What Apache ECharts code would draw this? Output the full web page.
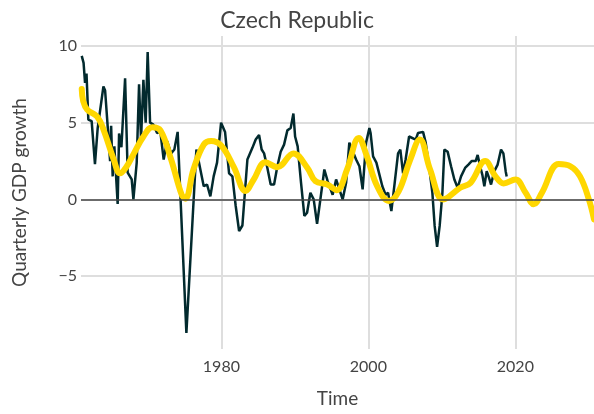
<!DOCTYPE html>
<html>
<head>
<meta charset="utf-8">
<script src="https://cdn.jsdelivr.net/npm/echarts@6/dist/echarts.min.js"></script>
<style>
  html, body { margin: 0; padding: 0; background: #fff; }
  #chart { width: 594px; height: 414px; }
</style>
</head>
<body>
<div id="chart"></div>
<script>
  // quarterly GDP growth
  var gdpYears = [
    1961.0, 1961.25, 1961.45, 1961.65, 1961.9, 1962.35, 1962.8, 1963.17, 1963.95, 1964.18,
    1964.53, 1964.86, 1965.0, 1965.21, 1965.44, 1965.89, 1966.08, 1966.4, 1966.9, 1967.25,
    1967.8, 1968.03, 1968.48, 1968.8, 1969.07, 1969.39, 1969.7, 1969.97, 1970.3, 1970.75,
    1971.25, 1971.7, 1972.15, 1972.61, 1973.16, 1973.6, 1974.05, 1974.3, 1975.24, 1976.6,
    1977.14, 1977.6, 1978.05, 1978.5, 1978.95, 1979.41, 1979.96, 1980.5, 1981.05, 1981.5,
    1981.95, 1982.41, 1982.86, 1983.54, 1984.22, 1984.67, 1985.13, 1985.48, 1985.81, 1986.26,
    1986.71, 1987.17, 1987.62, 1988.07, 1988.53, 1988.98, 1989.43, 1989.8, 1990.03, 1990.38,
    1990.84, 1991.29, 1991.66, 1992.11, 1992.56, 1993.02, 1993.47, 1994.01, 1994.46, 1995.14,
    1995.61, 1996.5, 1996.97, 1997.41, 1998.33, 1998.78, 1999.22, 1999.69, 2000.14, 2000.3,
    2000.64, 2001.09, 2001.46, 2001.9, 2002.35, 2002.68, 2003.13, 2003.58, 2004.04, 2004.35,
    2004.72, 2005.07, 2005.54, 2006.44, 2006.76, 2007.44, 2007.8, 2008.26, 2008.71, 2009.02,
    2009.35, 2009.7, 2010.07, 2010.34, 2010.79, 2011.25, 2011.7, 2012.15, 2012.61, 2013.16,
    2013.61, 2014.05, 2014.6, 2014.87, 2015.2, 2015.51, 2015.78, 2016.1, 2016.42, 2016.69,
    2017.14, 2017.59, 2018.05, 2018.37, 2018.68, 2018.82
  ];
  var gdpValues = [
    9.35, 8.9, 7.6, 8.2, 5.2, 5.1, 2.3, 4.65, 7.36, 7.1,
    4.76, 2.5, 4.8, 1.5, 3.46, -0.3, 4.3, 3.4, 7.9, 1.75,
    1.3, 0, 2.4, 7.5, 3.9, 7.8, 5.0, 9.6, 5.0, 4.87,
    4.33, 4.4, 2.6, 3.8, 3.0, 3.25, 4.4, 4.33, -8.7, 3.25,
    1.95, 0.86, 0.97, 0.2, 1.5, 2.4, 5.0, 4.4, 1.7, 1.5,
    -0.43, -2.06, -1.7, 2.6, 3.36, 3.9, 4.2, 3.25, 3.0, 2.05,
    0.97, 0.97, 2.16, 3.1, 3.57, 4.5, 4.65, 5.6, 4.1, 3.46,
    1.08, -1.08, -0.87, 0.43, 0, -1.6, 0, 1.95, 1.19, 0.3,
    1.3, 0, 1.08, 3.7, 2.6, 2.16, 0.65, 3.7, 4.65, 4.33,
    2.8, 2.4, 1.7, 0.86, 0.3, 0.43, -0.76, 1.08, 3.0, 3.25,
    1.7, 2.6, 4.1, 3.9, 4.33, 4.4, 3.7, 2.16, 0.43, -1.73,
    -3.1, -1.73, 0.4, 3.25, 3.1, 2.16, 1.3, 0.76, 1.5, 2.05,
    2.27, 2.5, 2.5, 2.9, 2.16, 1.6, 0.86, 1.84, 1.4, 0.97,
    1.84, 2.27, 3.25, 3.0, 1.84, 1.5
  ];

  // smoothed trend (incl. projection)
  var trendYears = [
    1961.0, 1961.2, 1961.75, 1963.1, 1964.0, 1965.35, 1966.2, 1967.0, 1968.1, 1969.4,
    1970.6, 1971.7, 1973.1, 1974.6, 1975.1, 1976.2, 1977.6, 1978.6, 1980.0, 1981.7,
    1983.3, 1984.4, 1986.0, 1987.6, 1989.8, 1991.7, 1992.8, 1994.4, 1995.7, 1997.1,
    1998.7, 1999.8, 2001.2, 2002.8, 2004.1, 2005.7, 2007.0, 2008.4, 2010.2, 2012.5,
    2013.9, 2015.9, 2017.3, 2018.4, 2020.0, 2021.4, 2022.5, 2023.6, 2025.9, 2027.5,
    2028.8, 2030.0, 2030.7
  ];
  var trendValues = [
    7.2, 6.4, 5.85, 5.4, 4.5, 2.6, 1.7, 2.06, 3.0, 4.1,
    4.7, 4.5, 2.7, 0.3, 0.05, 1.95, 3.57, 3.8, 3.5, 2.1,
    0.55, 1.3, 2.42, 2.1, 3.0, 2.06, 1.19, 0.97, 0.6, 1.95,
    4.0, 2.8, 0.86, -0.1, 0.5, 2.6, 3.9, 1.95, 0.0, 0.76,
    1.08, 2.5, 1.5, 1.04, 1.3, 0.43, -0.32, 0.43, 2.3, 2.16,
    1.5, 0, -1.3
  ];

  var xTicks = [1980, 2000, 2020];
  var yTicks = [-5, 0, 5, 10];

  var textColor = '#444';
  var fontFamily = 'Lato';

  function pairs(xs, ys) {
    return xs.map(function (x, i) { return [x, ys[i]]; });
  }

  var myChart = echarts.init(document.getElementById('chart'));
  myChart.setOption({
    animation: false,
    title: {
      text: 'Czech Republic',
      left: 'center',
      top: 4,
      textStyle: { color: textColor, fontSize: 23, fontWeight: 'normal', fontFamily: fontFamily }
    },
    grid: { left: 81, right: 0, top: 36, bottom: 65 },
    xAxis: {
      type: 'value',
      min: 1960.9,
      max: 2030.7,
      name: 'Time',
      nameLocation: 'middle',
      nameGap: 40,
      nameTextStyle: { color: textColor, fontSize: 19, fontFamily: fontFamily },
      axisLine: { show: false },
      axisTick: { show: false, customValues: xTicks },
      axisLabel: {
        customValues: xTicks,
        color: textColor, fontSize: 16, fontFamily: fontFamily, margin: 10,
        formatter: function (v) { return String(v); }
      },
      splitLine: { show: true, lineStyle: { color: '#dedede', width: 2 } }
    },
    yAxis: {
      type: 'value',
      min: -9.75,
      max: 10.65,
      name: 'Quarterly GDP growth',
      nameLocation: 'middle',
      nameGap: 52,
      nameTextStyle: { color: textColor, fontSize: 19, fontFamily: fontFamily },
      axisLine: { show: false },
      axisTick: { show: false, customValues: yTicks },
      axisLabel: {
        customValues: yTicks,
        color: textColor, fontSize: 16, fontFamily: fontFamily, margin: 4,
        formatter: function (v) { return v < 0 ? '\u2212' + Math.abs(v) : String(v); }
      },
      splitLine: { show: true, lineStyle: { color: '#dedede', width: 2 } }
    },
    series: [
      {
        name: 'GDP growth',
        type: 'line',
        data: pairs(gdpYears, gdpValues),
        showSymbol: false,
        lineStyle: { color: '#022a2e', width: 2.5 },
        markLine: {
          silent: true,
          symbol: 'none',
          label: { show: false },
          lineStyle: { color: '#444', width: 1.5, type: 'solid' },
          data: [{ yAxis: 0 }]
        },
        z: 2
      },
      {
        name: 'Trend',
        type: 'line',
        data: pairs(trendYears, trendValues),
        showSymbol: false,
        smooth: 0.4,
        lineStyle: { color: '#FFD700', width: 6, cap: 'round' },
        z: 3
      }
    ]
  });

  window.addEventListener('resize', function () {
    myChart.resize();
  });
</script>
</body>
</html>
